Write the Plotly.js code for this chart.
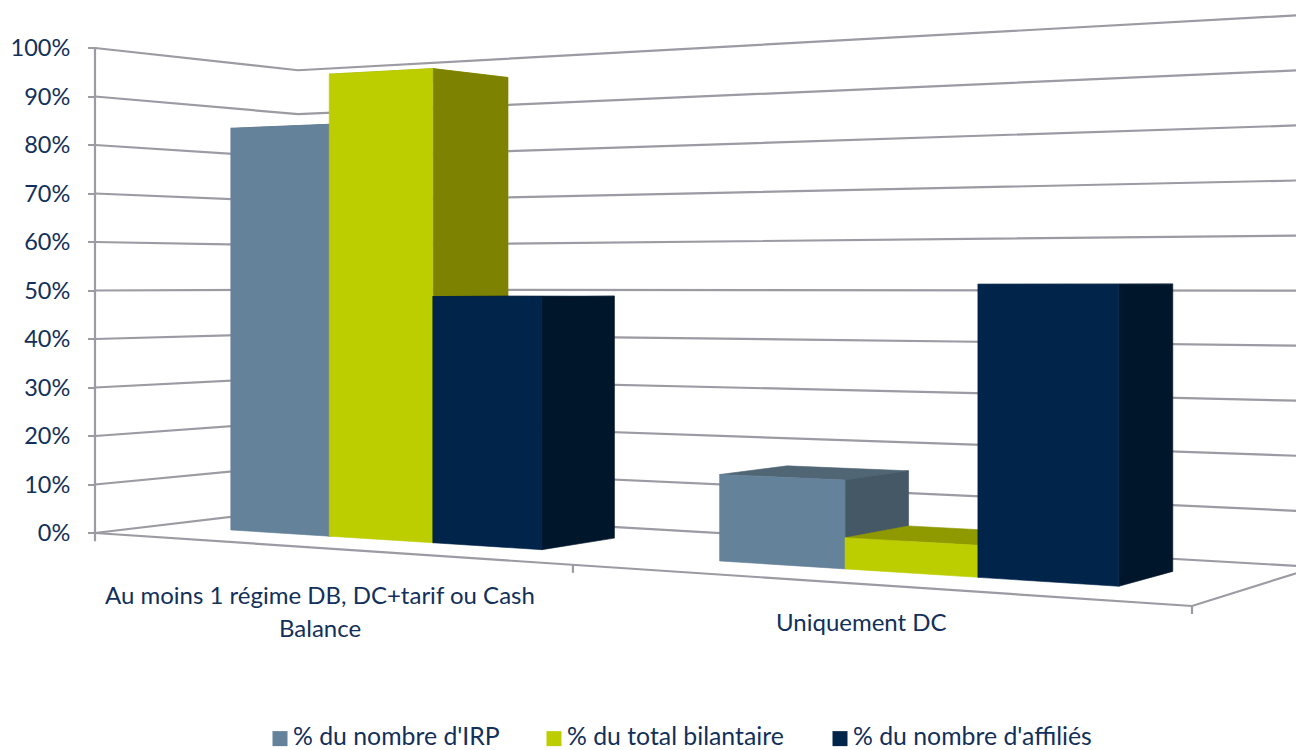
<!DOCTYPE html>
<html><head><meta charset="utf-8">
<script src="https://cdn.plot.ly/plotly-3.0.1.min.js"></script>
<style>html,body{margin:0;padding:0;background:#fff}</style>
</head><body><div id="chart" style="width:1296px;height:750px"></div>
<script>
// ---- data ----
const categoryLines = [["Au moins 1 régime DB, DC+tarif ou Cash","Balance"],["Uniquement DC"]];
const seriesNames = ["% du nombre d'IRP","% du total bilantaire","% du nombre d'affiliés"];
const irp = [83.8, 16];
const bilan = [94, 5.6];
const affilies = [48.8, 51.2];
const tickValues = [0,10,20,30,40,50,60,70,80,90,100];
const tickLabels = ["0%","10%","20%","30%","40%","50%","60%","70%","80%","90%","100%"];

// ---- colours ----
const frontColors = ["#64829A","#BCCE00","#00244A"];
const sideColors  = ["#445866","#7D8200","#00162B"];
const topColors   = ["#506675","#8F9900","#001C38"];
const inkColor = "#12305A", gridColor = "#9C9AA2";
const fontFamily = "Lato, 'Open Sans', sans-serif";

// ---- 3D camera: floor corners on the page give a homography; k is the % scale ----
const P00=[95,533], P10=[1192,606], P11=[1316,567], P01=[298,509], k=4.85;
const sx=P00[0]-P10[0]+P11[0]-P01[0], sy=P00[1]-P10[1]+P11[1]-P01[1];
const dx1=P10[0]-P11[0], dx2=P01[0]-P11[0], dy1=P10[1]-P11[1], dy2=P01[1]-P11[1];
const den=dx1*dy2-dx2*dy1;
const g=(sx*dy2-dx2*sy)/den, h=(dx1*sy-sx*dy1)/den;
const a=P10[0]-P00[0]+g*P10[0], b=P01[0]-P00[0]+h*P01[0];
const d=P10[1]-P00[1]+g*P10[1], e=P01[1]-P00[1]+h*P01[1];
function project(u,w,v){
  const W = g*u + h*w + 1;
  const x = (a*u + b*w + P00[0])/W;
  const py = (d*u + e*w + P00[1] - v*k)/W;
  return [x,(P00[1]-py)/k];     // x in plot units, y on the % axis of the front-left edge
}
function polyline(pts){ const p = pts.map(q=>project(q[0],q[1],q[2])); return {x:p.map(q=>q[0]),y:p.map(q=>q[1])}; }

const traces = [];
function addLine(pts){
  traces.push(Object.assign(polyline(pts),{type:"scatter",mode:"lines",line:{color:gridColor,width:2.2},hoverinfo:"skip",showlegend:false}));
}
function addFace(pts,color){
  traces.push(Object.assign(polyline(pts.concat([pts[0]])),{type:"scatter",mode:"lines",fill:"toself",fillcolor:color,line:{color:color,width:0.6},hoverinfo:"skip",showlegend:false}));
}

// walls and floor
tickValues.forEach(v=>addLine([[0,0,v],[0,1,v],[1,1,v]]));
addLine([[0,0,-1.7],[0,0,100]]);
addLine([[0,0,0],[1,0,0],[1,1,0]]);
[0.5,1].forEach(u=>addLine([[u,0,0],[u,0,-8/k*(g*u+1)]]));

// bars
const seriesValues = [irp,bilan,affilies];
const catWidth = 0.5, gapWidth = 1.52, w0 = 0.295, w1 = 0.695;
const barW = catWidth/(seriesValues.length+gapWidth);
categoryLines.forEach((_,c)=>{
  seriesValues.forEach((vals,s)=>{
    const u0 = c*catWidth + barW*gapWidth/2 + s*barW, u1 = u0+barW, v = vals[c];
    addFace([[u0,w0,v],[u1,w0,v],[u1,w1,v],[u0,w1,v]],topColors[s]);
    addFace([[u1,w0,0],[u1,w1,0],[u1,w1,v],[u1,w0,v]],sideColors[s]);
    addFace([[u0,w0,0],[u1,w0,0],[u1,w0,v],[u0,w0,v]],frontColors[s]);
  });
});

// legend entries
const legendIds = ["legend","legend2","legend3"];
seriesNames.forEach((n,s)=>traces.push({type:"scatter",mode:"markers",x:[null],y:[null],name:n,legend:legendIds[s],
  marker:{symbol:"square",size:15,color:frontColors[s]},showlegend:true,hoverinfo:"skip"}));

// category labels
const annotations = [];
const lineShifts = [[-47,-80],[-38]];
categoryLines.forEach((lines,c)=>{
  const p = project(c*catWidth+catWidth/2,0,0);
  lines.forEach((t,i)=>annotations.push({xref:"x",yref:"y",x:p[0],y:p[1],text:t,showarrow:false,
    xanchor:"center",yanchor:"middle",yshift:lineShifts[c][i],font:{family:fontFamily,size:24,color:inkColor}}));
});

function legendAt(x){ return {x:x/1296,y:(750-736)/750,xanchor:"left",yanchor:"middle",orientation:"h",bgcolor:"rgba(0,0,0,0)",
  font:{family:fontFamily,size:24.8,color:inkColor},itemclick:false,itemdoubleclick:false}; }

const layout = {
  width:1296,height:750,margin:{l:0,r:0,t:0,b:0,autoexpand:false},paper_bgcolor:"#fff",plot_bgcolor:"#fff",
  xaxis:{range:[0,1296],visible:false,fixedrange:true},
  yaxis:{range:[(P00[1]-750)/k,P00[1]/k],anchor:"free",position:95/1296,showgrid:false,zeroline:false,showline:false,
    tickmode:"array",tickvals:tickValues,ticktext:tickLabels,ticks:"outside",ticklen:7,tickwidth:2,tickcolor:gridColor,
    ticklabelstandoff:13,tickfont:{family:fontFamily,size:23.5,color:inkColor},fixedrange:true},
  legend:legendAt(253),legend2:legendAt(527),legend3:legendAt(813),
  annotations:annotations,showlegend:true
};
Plotly.newPlot("chart",traces,layout,{displayModeBar:false}).then(()=>{
  // the reference keeps its legend swatches close to their labels
  document.querySelectorAll(".legendsymbols").forEach(el=>el.setAttribute("transform","translate(7,3)"));
});
</script></body></html>
